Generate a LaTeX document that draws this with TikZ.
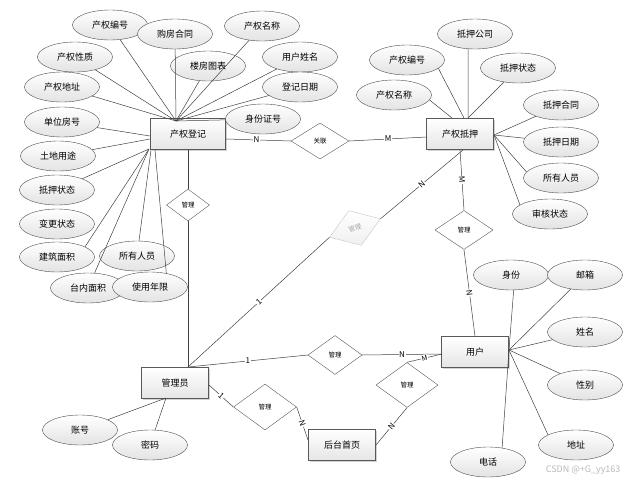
\documentclass[tikz,border=0pt]{standalone}
\usepackage{fontspec}
\setmainfont{Noto Sans CJK SC}
\usetikzlibrary{shapes.geometric,shadows}

\tikzset{
  shiti/.style={draw=gray!70!black, rectangle, minimum width=67pt, minimum height=31pt,
    top color=white, bottom color=gray!20, inner sep=0pt,
    drop shadow={shadow xshift=1.5pt,shadow yshift=-1.5pt,opacity=.35},
    font=\fontsize{9}{10}\selectfont},
  shuxing/.style={draw=gray!60!black, ellipse, minimum width=75pt, minimum height=30pt,
    top color=white, bottom color=gray!22, inner sep=0pt, font=\fontsize{9}{10}\selectfont},
  guanxi/.style={draw=gray!70!black, diamond, fill=white, inner sep=0pt,
    font=\fontsize{6.5}{7}\selectfont},
  biaoji/.style={fill=white, inner sep=0.6pt, font=\fontsize{8}{8}\selectfont},
  lianxian/.style={draw=black!75, line width=0.5pt}
}

\begin{document}
\begin{tikzpicture}[x=1pt,y=-1pt]
\useasboundingbox (0,0) rectangle (630,482);

% entities
\node[shiti, minimum width=75pt] (djb) at (188,134) {产权登记};
\node[shiti] (dyb) at (460,134) {产权抵押};
\node[shiti] (yh) at (475,352) {用户};
\node[shiti] (gly) at (175,383) {管理员};
\node[shiti] (htsy) at (342,445) {后台首页};

% relations
\node[guanxi, minimum width=58pt, minimum height=36pt] (gllian) at (320,141) {关联};
\node[guanxi, minimum width=43pt, minimum height=32pt] (gldj) at (188,205) {管理};
\node[guanxi, minimum width=54pt, minimum height=37pt, rotate=20, draw=gray!45,
  top color=white, bottom color=gray!12, text=gray!70] (glx) at (355,228) {管理};
\node[guanxi, minimum width=58pt, minimum height=39pt] (gldy) at (464,230) {管理};
\node[guanxi, minimum width=54pt, minimum height=39pt] (glyh) at (335,355) {管理};
\node[guanxi, minimum width=63pt, minimum height=46pt] (glht) at (265,407) {管理};
\node[guanxi, minimum width=62pt, minimum height=45pt] (glhy) at (407,385) {管理};

% contact points
\coordinate (djT) at (176,121);
\coordinate (djL1) at (150,136);
\coordinate (djL2) at (150,139);
\coordinate (djB) at (149,149);
\coordinate (djB1) at (151,150);
\coordinate (djB2) at (155,150);
\coordinate (djR) at (226,139);
\coordinate (dyL) at (427,137);
\coordinate (dyT) at (464,118);
\coordinate (dyT1) at (468,118);
\coordinate (dyT2) at (452,118);
\coordinate (dyR) at (494,135);
\coordinate (dyS) at (463,150);
\coordinate (yhR) at (509,350);
\coordinate (yhL) at (442,354);
\coordinate (glyT) at (188,367);
\coordinate (glyR) at (209,385);
\coordinate (glyB) at (166,398);
\coordinate (htL) at (308,440);
\coordinate (htR) at (376,445);

% attributes of 产权登记
\foreach \nm/\x/\y/\t in {dcqbh/110/25/产权编号, dgfht/175/34/购房合同, dcqxz/75/57/产权性质,
  dcqdz/62/87/产权地址, ddwfh/62/122/单位房号, dtdyt/58/156/土地用途, ddyzt/57/190/抵押状态,
  dbgzt/57/224/变更状态, djzmj/57/257/建筑面积, dsyry/137/256/所有人员, dtnmj/88/288/台内面积,
  dsynx/150/287/使用年限, dlftb/208/66/楼房图表, dcqmc/262/26/产权名称, dyhxm/300/57/用户姓名,
  ddjrq/300/87/登记日期, dsfzh/263/119/身份证号}
  \node[shuxing] (\nm) at (\x,\y) {\t};

% attributes of 产权抵押
\foreach \nm/\x/\y/\t in {ydygs/475/34/抵押公司, ycqbh/407/60/产权编号, ydyzt/518/68/抵押状态,
  ycqmc/394/95/产权名称, ydyht/561/105/抵押合同, ydyrq/561/142/抵押日期,
  ysyry/561/178/所有人员, yshzt/550/214/审核状态}
  \node[shuxing] (\nm) at (\x,\y) {\t};

% attributes of 用户 and 管理员
\foreach \nm/\x/\y/\t in {usf/511/275/身份, uyx/585/275/邮箱, uxm/585/332/姓名, uxb/585/385/性别,
  udz/576/445/地址, udh/488/462/电话, gzh/80/430/账号, gmm/150/445/密码}
  \node[shuxing] (\nm) at (\x,\y) {\t};

% attribute lines
\foreach \a/\b in {dcqbh/djT, dgfht/djT, dcqxz/djT, dcqdz/djT, dlftb/djT, dcqmc/djT,
  dyhxm/djT, ddjrq/djT, dsfzh/djT, ddwfh/djL1, dtdyt/djL2, ddyzt/djB, djzmj.20/djB,
  dtnmj/djB, dsyry/djB1, dsynx.40/djB2,
  ydygs.-115/dyT1, ycqbh.-15/dyT, ydyzt/dyT1, ycqmc.-8/dyT2, ydyht/dyR, ydyrq/dyR,
  ysyry.170/dyR, yshzt.163/dyR,
  usf.-80/yhR, uyx/yhR, uxm/yhR, uxb/yhR, udz.160/yhR, udh.45/yhR, gzh/glyB, gmm/glyB}
  \draw[lianxian] (\a) -- (\b);

% relation lines
\draw[lianxian] (djR) -- node[biaoji, pos=.47] {N} (gllian.west);
\draw[lianxian] (gllian.east) -- node[biaoji] {M} (dyL);
\draw[lianxian] (djb.south) -- (gldj.north);
\draw[lianxian] (gldj.south) -- (glyT);
\draw[lianxian] (glyT) -- node[biaoji, sloped] {1} (glx.west);
\draw[lianxian] (glx.east) -- node[biaoji, sloped] {N} (dyS);
\draw[lianxian] (dyb.south) -- node[biaoji, sloped] {M} (gldy.north);
\draw[lianxian] (gldy.south) -- node[biaoji, sloped] {N} (yh.north);
\draw[lianxian] (glyT) -- node[biaoji] {1} (glyh.west);
\draw[lianxian] (glyh.east) -- node[biaoji] {N} (yhL);
\draw[lianxian] (glhy.north) -- node[biaoji, sloped, font=\fontsize{7}{7}\selectfont] {M} (yhL);
\draw[lianxian] (glyR) -- node[biaoji, sloped] {1} (glht.west);
\draw[lianxian] (glht.east) -- node[biaoji, sloped] {N} (htL);
\draw[lianxian] (htR) -- node[biaoji, sloped] {N} (glhy.south);

% watermark
\node[text=gray!55, font=\fontsize{9}{10}\selectfont, anchor=east] (shuiyin) at (624,470) {CSDN @+G\_yy163};
\end{tikzpicture}
\end{document}
